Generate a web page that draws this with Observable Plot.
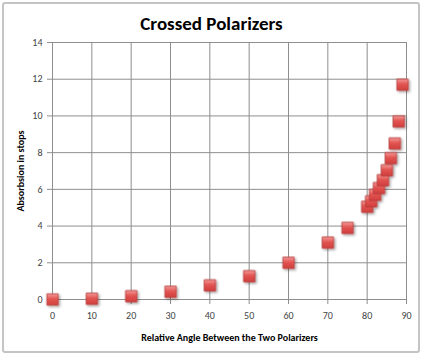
<!DOCTYPE html>
<html>
<head>
<meta charset="utf-8">
<script src="https://cdn.jsdelivr.net/npm/d3@7"></script>
<script src="https://cdn.jsdelivr.net/npm/@observablehq/plot@0.6"></script>
<style>
  body { margin: 0; background: #fff; }
  #wrap { position: relative; width: 423px; height: 354px; background: #fff; overflow: hidden; }
  #frame { position: absolute; left: 2px; top: 2px; width: 414px; height: 347px; border: 2px solid #c4c4c4; border-radius: 3px; }
  #title { position: absolute; left: 0; top: 12px; width: 423px; text-align: center;
    font-family: Carlito, "Liberation Sans Narrow", "Liberation Sans", sans-serif; font-weight: bold; font-size: 19px; color: #000; line-height: 24px; }
  #chart { position: absolute; left: 0; top: 36px; }
  #chart svg { font-family: Carlito, "Liberation Sans Narrow", "Liberation Sans", sans-serif; }
  #chart g[aria-label="x-axis label"] text, #chart g[aria-label="y-axis label"] text { font-weight: bold; fill: #000; }
</style>
</head>
<body>
<div id="wrap">
  <div id="frame"></div>
  <div id="title">Crossed Polarizers</div>
  <div id="chart"></div>
</div>
<script>
const angles = [0, 10, 20, 30, 40, 50, 60, 70, 75, 80, 81, 82, 83, 84, 85, 86, 87, 88, 89];
const stops  = [0, 0.04, 0.18, 0.42, 0.77, 1.27, 2.0, 3.1, 3.9, 5.05, 5.35, 5.7, 6.07, 6.5, 7.04, 7.7, 8.5, 9.7, 11.7];
const xTicks = [0, 10, 20, 30, 40, 50, 60, 70, 80, 90];
const yTicks = [0, 2, 4, 6, 8, 10, 12, 14];
const xLabel = "Relative Angle Between the Two Polarizers";
const yLabel = "Absorbsion in stops";

const data = angles.map((a, i) => ({angle: a, stops: stops[i]}));

const gridColor = "#8e8e8e";
const chart = Plot.plot({
  width: 423,
  height: 318,
  marginLeft: 52,
  marginRight: 17,
  marginTop: 6,
  marginBottom: 55,
  style: {fontSize: "10px", color: "#444", background: "transparent"},
  x: {domain: [0, 90], ticks: xTicks},
  y: {domain: [0, 14], ticks: yTicks},
  marks: [
    Plot.gridX(xTicks, {stroke: gridColor, strokeOpacity: 1}),
    Plot.gridY(yTicks, {stroke: gridColor, strokeOpacity: 1}),
    Plot.axisX(xTicks, {tickSize: 5, tickPadding: 7, stroke: gridColor, fill: "#444", label: xLabel, labelAnchor: "center", labelArrow: "none", labelOffset: 41, fontSize: 10}),
    Plot.axisY(yTicks, {tickSize: 5, tickPadding: 5, stroke: gridColor, fill: "#444", label: yLabel, labelAnchor: "center", labelArrow: "none", labelOffset: 36, fontSize: 10}),
    Plot.ruleX([0], {stroke: gridColor}),
    Plot.ruleY([0], {stroke: gridColor}),
    Plot.dot(data, {x: "angle", y: "stops", symbol: "square", r: 6.4, fill: "url(#redgrad)", stroke: "#b23a3a", strokeWidth: 0.8})
  ]
});

// gradient + shadow defs
const ns = "http://www.w3.org/2000/svg";
const defs = document.createElementNS(ns, "defs");
defs.innerHTML = `
  <linearGradient id="redgrad" x1="0" y1="0" x2="0" y2="1">
    <stop offset="0" stop-color="#f59a98"/>
    <stop offset="0.45" stop-color="#e25552"/>
    <stop offset="1" stop-color="#d23e3c"/>
  </linearGradient>
  <filter id="shadow" x="-50%" y="-50%" width="200%" height="200%">
    <feDropShadow dx="1.5" dy="1.5" stdDeviation="1" flood-color="#000" flood-opacity="0.35"/>
  </filter>`;
chart.insertBefore(defs, chart.firstChild);
const dots = chart.querySelector('g[aria-label="dot"]');
if (dots) dots.setAttribute("filter", "url(#shadow)");
document.getElementById("chart").appendChild(chart);
</script>
</body>
</html>
